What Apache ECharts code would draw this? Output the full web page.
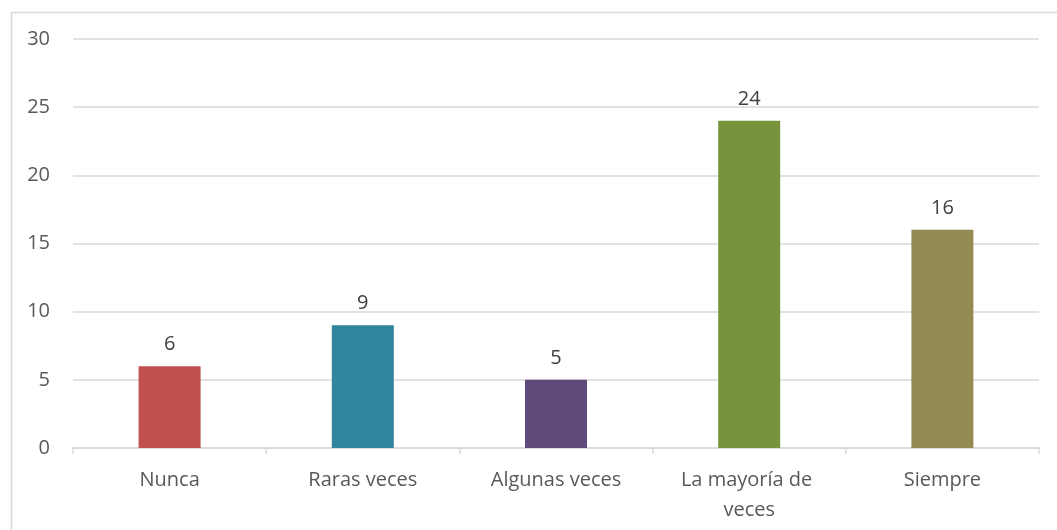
<!DOCTYPE html>
<html><head><meta charset="utf-8">
<script src="https://cdn.jsdelivr.net/npm/echarts@6/dist/echarts.min.js"></script>
<style>html,body{margin:0;padding:0;background:#fff}#c{width:1057px;height:530px}</style>
</head><body><div id="c"></div>
<script>
const categories = ["Nunca", "Raras veces", "Algunas veces", "La mayoría de veces", "Siempre"];
const values = [6, 9, 5, 24, 16];
const colors = ["#C0504D", "#31859C", "#604A7B", "#77933C", "#948A54"];
const yTicks = [0, 5, 10, 15, 20, 25, 30];

const chart = echarts.init(document.getElementById('c'), null, {renderer: 'canvas'});
const font = "'Open Sans', sans-serif";
chart.setOption({
  animation: false,
  graphic: [{type: 'rect', left: 9, top: 10, shape: {width: 1100, height: 600}, style: {fill: 'none', stroke: '#d9d9d9', lineWidth: 1.5}, silent: true}],
  grid: {left: 73, right: 18, top: 39, bottom: 82},
  xAxis: {
    type: 'category', data: categories,
    axisLine: {lineStyle: {color: '#d9d9d9', width: 1.5}},
    axisTick: {show: true, length: 6, lineStyle: {color: '#d9d9d9', width: 1.5}},
    axisLabel: {color: '#595959', fontSize: 20, fontFamily: font, margin: 17, lineHeight: 30, width: 170, overflow: 'break', interval: 0}
  },
  yAxis: {
    type: 'value', min: yTicks[0], max: yTicks[yTicks.length - 1], interval: 5,
    axisLine: {show: false}, axisTick: {show: false},
    splitLine: {lineStyle: {color: '#d9d9d9', width: 1.5}},
    axisLabel: {color: '#595959', fontSize: 20, fontFamily: font, margin: 23}
  },
  series: [{
    type: 'bar', barWidth: 62,
    data: values.map((v, i) => ({value: v, itemStyle: {color: colors[i]}})),
    label: {show: true, position: 'top', distance: 12, color: '#404040', fontSize: 20, fontFamily: font}
  }]
});
</script></body></html>
